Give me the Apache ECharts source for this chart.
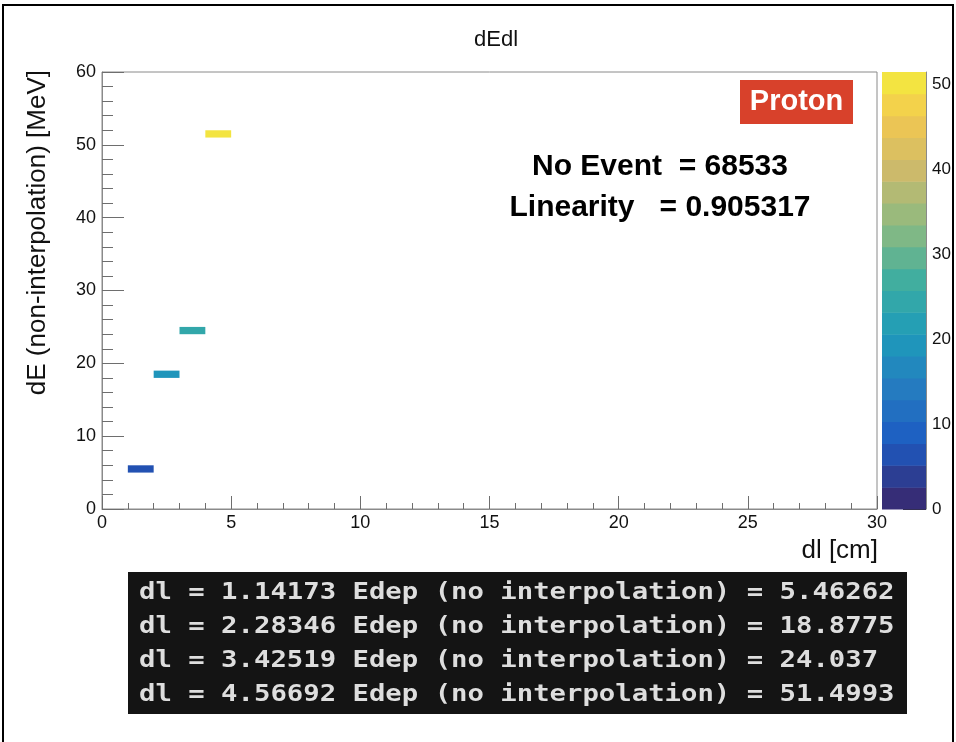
<!DOCTYPE html>
<html>
<head>
<meta charset="utf-8">
<script src="https://cdn.jsdelivr.net/npm/echarts@6/dist/echarts.min.js"></script>
<style>
  html, body { margin: 0; padding: 0; background: #fff; }
  #chart { width: 956px; height: 742px; }
</style>
</head>
<body>
<div id="chart"></div>
<script>
// Track-length vs. deposited-energy points (one filled 1x1 bin each)
const dl = [1.14173, 2.28346, 3.42519, 4.56692];
const edep = [5.46262, 18.8775, 24.037, 51.4993];

// Axis ranges and tick values
const xRange = [0, 30];
const yRange = [0, 60];
const xTickStep = 5;
const yTickStep = 10;
const zTicks = [0, 10, 20, 30, 40, 50];

// Annotation texts
const tagText = 'Proton';
const eventText = 'No Event  = 68533';
const linearityText = 'Linearity   = 0.905317';

// Colour scale: 20 contour bands over [0, max content], kBird palette
const nBands = 20;
const zMax = Math.max(...edep);
const birdStops = [0.0, 0.125, 0.25, 0.375, 0.5, 0.625, 0.75, 0.875, 1.0];
const birdR = [0.2082, 0.0592, 0.0780, 0.0232, 0.1802, 0.5301, 0.8186, 0.9956, 0.9764];
const birdG = [0.1664, 0.3599, 0.5041, 0.6419, 0.7178, 0.7492, 0.7328, 0.7862, 0.9832];
const birdB = [0.5293, 0.8684, 0.8385, 0.7914, 0.6425, 0.4662, 0.3499, 0.1968, 0.0539];
const washout = 0.2;   // slight desaturation of the printed palette

function bird(t) {
  t = Math.max(0, Math.min(1, t));
  let k = 0;
  while (k < birdStops.length - 2 && t > birdStops[k + 1]) k++;
  const f = (t - birdStops[k]) / (birdStops[k + 1] - birdStops[k]);
  const lerp = arr => arr[k] + f * (arr[k + 1] - arr[k]);
  let r = lerp(birdR), g = lerp(birdG), b = lerp(birdB);
  const lum = 0.299 * r + 0.587 * g + 0.114 * b;
  r += (lum - r) * washout; g += (lum - g) * washout; b += (lum - b) * washout;
  const c = v => Math.round(255 * Math.max(0, Math.min(1, v)));
  return 'rgb(' + c(r) + ',' + c(g) + ',' + c(b) + ')';
}
function bandColor(i) {
  const idx = Math.floor(0.01 + i * 255 / nBands);
  return bird(idx / 254);
}
function bandOf(v) {
  return Math.max(0, Math.min(nBands - 1, Math.floor(v / zMax * nBands)));
}

const cells = dl.map((x, i) => [x, edep[i]]);
const bands = [];
for (let i = 0; i < nBands; i++) {
  bands.push([i * zMax / nBands, (i + 1) * zMax / nBands, i]);
}

const lines = dl.map((x, i) => 'dl = ' + x + ' Edep (no interpolation) = ' + edep[i]);

const sans = '"Liberation Sans", Arial, Helvetica, sans-serif';
const mono = '"DejaVu Sans Mono", "Liberation Mono", monospace';
const frameGray = '#8a8a8a';
const tickGray = '#6e6e6e';

const chart = echarts.init(document.getElementById('chart'), null, { renderer: 'canvas' });

const option = {
  animation: false,
  backgroundColor: '#ffffff',
  title: {
    text: 'dEdl',
    left: 491,
    top: 24,
    textAlign: 'center',
    textStyle: { fontFamily: sans, fontSize: 22, fontWeight: 'normal', color: '#111' }
  },
  grid: [
    { left: 102, top: 72, width: 775, height: 437, show: true,
      borderColor: frameGray, borderWidth: 1, backgroundColor: 'transparent' },
    { left: 882, top: 72, width: 44, height: 437, show: false }
  ],
  xAxis: [
    {
      gridIndex: 0, type: 'value', min: xRange[0], max: xRange[1], interval: xTickStep,
      axisLine: { show: true, onZero: false, lineStyle: { color: frameGray } },
      axisTick: { show: true, inside: true, length: 13, lineStyle: { color: tickGray } },
      minorTick: { show: true, splitNumber: 5, length: 6, lineStyle: { color: tickGray } },
      splitLine: { show: false },
      axisLabel: { fontFamily: sans, fontSize: 18, color: '#111', margin: 5 }
    },
    { gridIndex: 1, type: 'value', min: 0, max: 1, show: false }
  ],
  yAxis: [
    {
      gridIndex: 0, type: 'value', min: yRange[0], max: yRange[1], interval: yTickStep,
      axisLine: { show: true, onZero: false, lineStyle: { color: frameGray } },
      axisTick: { show: true, inside: true, length: 22, lineStyle: { color: tickGray } },
      minorTick: { show: true, splitNumber: 5, length: 11, lineStyle: { color: tickGray } },
      splitLine: { show: false },
      axisLabel: { fontFamily: sans, fontSize: 18, color: '#111', margin: 6 }
    },
    {
      gridIndex: 1, type: 'value', min: 0, max: zMax, position: 'right',
      axisLine: { show: true, onZero: false, lineStyle: { color: frameGray } },
      axisTick: { show: true, inside: true, length: 23, customValues: zTicks,
        lineStyle: { color: '#333' } },
      splitLine: { show: false },
      axisLabel: { fontFamily: sans, fontSize: 17, color: '#111', margin: 6,
        customValues: zTicks }
    }
  ],
  series: [
    {
      // colour-bar bands
      type: 'custom',
      xAxisIndex: 1, yAxisIndex: 1,
      data: bands,
      silent: true,
      z: 1,
      renderItem: function (params, api) {
        const lo = api.value(0), hi = api.value(1), i = api.value(2);
        const p0 = api.coord([0, hi]);
        const p1 = api.coord([1, lo]);
        return {
          type: 'rect',
          shape: { x: p0[0], y: p0[1], width: p1[0] - p0[0], height: p1[1] - p0[1] + 0.5 },
          style: { fill: bandColor(i) }
        };
      }
    },
    {
      // filled histogram bins
      type: 'custom',
      xAxisIndex: 0, yAxisIndex: 0,
      data: cells,
      silent: true,
      z: 3,
      renderItem: function (params, api) {
        const x = api.value(0), y = api.value(1);
        const bx = Math.floor(x), by = Math.floor(y);
        const p0 = api.coord([bx, by + 1]);
        const p1 = api.coord([bx + 1, by]);
        return {
          type: 'rect',
          shape: { x: p0[0], y: p0[1], width: p1[0] - p0[0], height: p1[1] - p0[1] },
          style: { fill: bandColor(bandOf(y)) }
        };
      }
    }
  ],
  graphic: [
    // outer frame
    { type: 'rect', shape: { x: 3, y: 5, width: 950, height: 745 },
      style: { fill: 'none', stroke: '#000', lineWidth: 2 }, z: 10 },
    // axis titles
    { type: 'text', x: 38, y: 70, rotation: Math.PI / 2,
      style: { text: 'dE (non-interpolation) [MeV]', font: '26px ' + sans, fill: '#111',
        textAlign: 'right', textVerticalAlign: 'middle' } },
    { type: 'text', x: 878, y: 551,
      style: { text: 'dl [cm]', font: '26px ' + sans, fill: '#111',
        textAlign: 'right', textVerticalAlign: 'middle' } },
    // particle tag
    { type: 'rect', shape: { x: 740, y: 80, width: 113, height: 44 },
      style: { fill: '#d8412b' }, z: 5 },
    { type: 'text', x: 796.5, y: 102, z: 6,
      style: { text: tagText, font: 'bold 29px ' + sans, fill: '#fff',
        textAlign: 'center', textVerticalAlign: 'middle' } },
    // statistics
    { type: 'text', x: 660, y: 167, z: 6,
      style: { text: eventText, font: 'bold 30px ' + sans, fill: '#000',
        textAlign: 'center', textVerticalAlign: 'middle' } },
    { type: 'text', x: 660, y: 208, z: 6,
      style: { text: linearityText, font: 'bold 30px ' + sans, fill: '#000',
        textAlign: 'center', textVerticalAlign: 'middle' } },
    // console printout
    { type: 'rect', shape: { x: 128, y: 572, width: 779, height: 142 },
      style: { fill: '#141414' }, z: 5 }
  ].concat(lines.map((t, i) => ({
    type: 'text', x: 139, y: 593 + i * 34, scaleX: 1.24, scaleY: 1.05, z: 6,
    style: { text: t, font: 'bold 22px ' + mono, fill: '#dedede',
      textAlign: 'left', textVerticalAlign: 'middle' }
  })))
};

chart.setOption(option);
</script>
</body>
</html>
